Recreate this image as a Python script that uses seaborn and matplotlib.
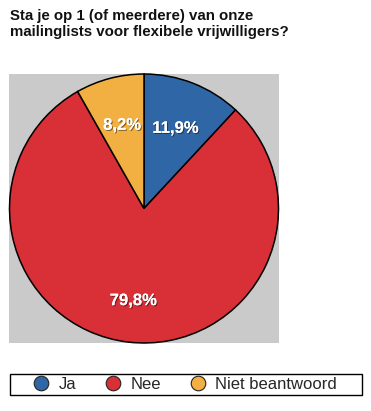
import numpy as np
import matplotlib
matplotlib.use("Agg")
import matplotlib.pyplot as plt
import matplotlib.patheffects as pe
from matplotlib.lines import Line2D
from matplotlib.patches import Rectangle
import seaborn as sns

labels = ["Ja", "Nee", "Niet beantwoord"]
values = [11.9, 79.8, 8.2]
pct_labels = ["11,9%", "79,8%", "8,2%"]
colors = ["#2f67a6", "#d83036", "#f3b042"]

sns.set_theme(style="white")
plt.rcParams["font.family"] = ["Liberation Sans", "DejaVu Sans"]

fig = plt.figure(figsize=(3.71, 4.11), dpi=100)
fig.patch.set_facecolor("white")

ax = fig.add_axes([9 / 371, 68 / 411, 270 / 371, 269 / 411])

wedges, _ = ax.pie(values, colors=colors, startangle=90, counterclock=False,
                   radius=1.0, frame=True,
                   wedgeprops=dict(edgecolor="black", linewidth=1.1))
ax.set_facecolor("#cacaca")
ax.set_xlim(-1.0, 1.0)
ax.set_ylim(-1.0, 1.0)
ax.set_aspect("equal")
ax.set_xticks([])
ax.set_yticks([])
for s in ax.spines.values():
    s.set_visible(False)

shadow = [pe.withSimplePatchShadow(offset=(0.8, -0.8), shadow_rgbFace="black", alpha=0.45),
          pe.Normal()]

# labels on the mid angle of each wedge
for i, (w, txt) in enumerate(zip(wedges, pct_labels)):
    mid = (w.theta1 + w.theta2) / 2
    r = 0.69 if i == 1 else 0.64
    x = r * np.cos(np.radians(mid))
    y = r * np.sin(np.radians(mid))
    ax.text(x, y, txt, ha="center", va="center", color="white",
            fontsize=12, fontweight="bold", path_effects=shadow)

fig.text(10 / 371, 1 - 24 / 411, "Sta je op 1 (of meerdere) van onze\nmailinglists voor flexibele vrijwilligers?",
         ha="left", va="center", fontsize=10.8, fontweight="bold", linespacing=1.2,
         color="#111111")

# legend frame drawn separately, legend itself centered inside
fig.add_artist(Rectangle((10 / 371, 1 - 395 / 411), 352 / 371, 21 / 411,
                         transform=fig.transFigure, facecolor="white",
                         edgecolor="black", linewidth=1.0))
handles = [Line2D([], [], marker="o", linestyle="", markersize=10.5,
                  markerfacecolor=c, markeredgecolor="#222222", markeredgewidth=0.8)
           for c in colors]
leg = fig.legend(handles, labels, ncol=3, loc="center",
                 bbox_to_anchor=(185 / 371, 1 - 384.5 / 411), frameon=False,
                 fontsize=12, handletextpad=0.55, columnspacing=1.7,
                 borderpad=0.1, handlelength=1.0)

fig.savefig("out.png", dpi=100)
